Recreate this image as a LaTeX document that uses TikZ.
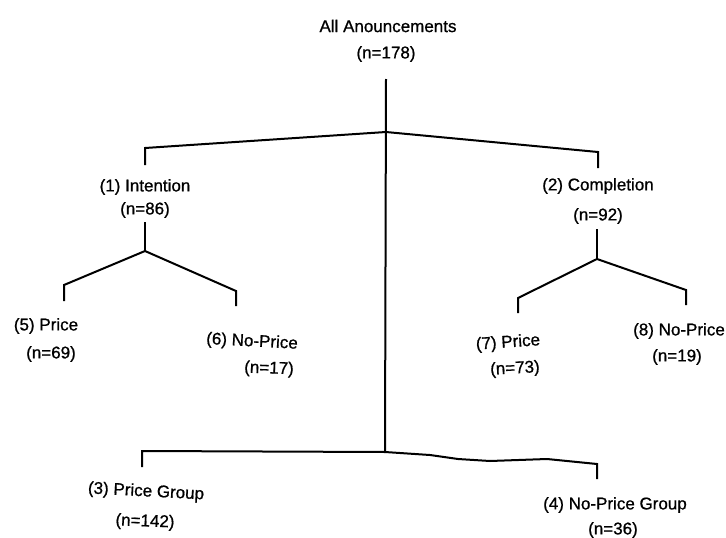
\documentclass[tikz,border=0pt]{standalone}
\usepackage{fontspec}
\setmainfont[FakeBold=0.8,BoldFont=Liberation Sans]{Liberation Sans}
\begin{document}
\begin{tikzpicture}[x=1pt,y=-1pt,
  lbl/.style={inner sep=0pt, font=\fontsize{17}{20}\selectfont\bfseries},
  branch/.style={line width=2pt, line join=miter, line cap=butt}]
\useasboundingbox[fill=white] (0,0) rectangle (726,538);

% labels
\node[lbl] (all)  at (388,26) {All Anouncements};
\node[lbl] (alln) at (386,54) {(n=178)};
\node[lbl] (intent)  at (145,187) {(1) Intention};
\node[lbl] (intentn) at (145,210) {(n=86)};
\node[lbl] (compl)  at (598,186) {(2) Completion};
\node[lbl] (compln) at (598,216) {(n=92)};
\node[lbl] (p5)  at (46,326) {(5) Price};
\node[lbl] (p5n) at (51,354) {(n=69)};
\node[lbl,rotate=-3] (p6)  at (252,342) {(6) No-Price};
\node[lbl,rotate=-2] (p6n) at (269,369) {(n=17)};
\node[lbl,rotate=4] (p7)  at (508,343) {(7) Price};
\node[lbl,rotate=3] (p7n) at (515,369) {(n=73)};
\node[lbl] (p8)  at (679,331) {(8) No-Price};
\node[lbl] (p8n) at (677,357) {(n=19)};
\node[lbl,rotate=-3] (g3)  at (146,492) {(3) Price Group};
\node[lbl,rotate=-2] (g3n) at (145,522) {(n=142)};
\node[lbl] (g4)  at (615,505) {(4) No-Price Group};
\node[lbl] (g4n) at (613,530) {(n=36)};

% joints
\coordinate (mtop) at (386,79);
\coordinate (j0) at (386,132);
\coordinate (jb) at (385,452);
\coordinate (a1) at (145,148);
\coordinate (b1) at (145,165);
\coordinate (a2) at (598,152);
\coordinate (b2) at (598,168);
\coordinate (s1) at (145,222);
\coordinate (j1) at (145,251);
\coordinate (a5) at (64,285);
\coordinate (b5) at (64,301);
\coordinate (a6) at (236,291);
\coordinate (b6) at (236,306);
\coordinate (s2) at (597,229);
\coordinate (j2) at (597,259);
\coordinate (a7) at (518,298);
\coordinate (b7) at (518,313);
\coordinate (a8) at (686,290);
\coordinate (b8) at (686,305);
\coordinate (a3) at (142,451);
\coordinate (b3) at (142,467);
\coordinate (w1) at (430,455);
\coordinate (w2) at (458,459);
\coordinate (w3) at (490,461);
\coordinate (w4) at (547,459);
\coordinate (a4) at (597,464);
\coordinate (b4) at (597,479);

% connectors
\draw[branch] (mtop) -- (jb);
\draw[branch] (b1) -- (a1) -- (j0) -- (a2) -- (b2);
\draw[branch] (s1) -- (j1);
\draw[branch] (b5) -- (a5) -- (j1) -- (a6) -- (b6);
\draw[branch] (s2) -- (j2);
\draw[branch] (b7) -- (a7) -- (j2) -- (a8) -- (b8);
\draw[branch] (b3) -- (a3) -- (jb) -- (w1) -- (w2) -- (w3) -- (w4) -- (a4) -- (b4);
\end{tikzpicture}
\end{document}
